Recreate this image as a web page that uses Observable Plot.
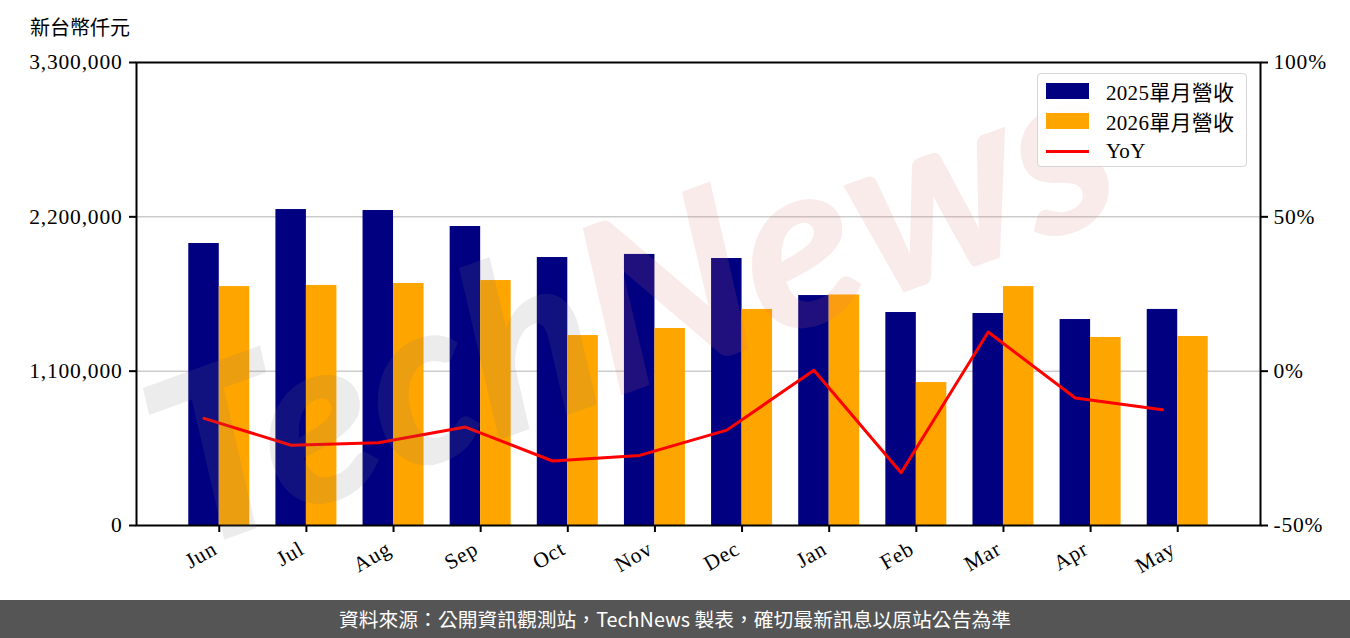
<!DOCTYPE html>
<html>
<head>
<meta charset="utf-8">
<script src="https://cdn.jsdelivr.net/npm/d3@7"></script>
<script src="https://cdn.jsdelivr.net/npm/@observablehq/plot@0.6"></script>
<style>
  html, body { margin: 0; padding: 0; background: #fff; }
  #wrap { position: relative; width: 1350px; height: 638px; overflow: hidden; background: #fff; }
  #title { position: absolute; left: 30px; top: 12px; font-family: "Noto Sans CJK TC", sans-serif; font-size: 20px; color: #000; }
  #chart { position: absolute; left: 0; top: 0; }
  #legend { position: absolute; left: 1037px; top: 73px; width: 208px; height: 92px; border: 1.5px solid #d6d6d6; border-radius: 4px; background: rgba(255,255,255,0.85); font-family: "Liberation Serif", "Noto Sans CJK TC", serif; font-size: 21px; letter-spacing: 0.3px; color: #000; }
  .row { position: absolute; left: 8px; height: 30px; display: flex; align-items: center; }
  .sw { width: 43px; height: 16px; margin-right: 17px; }
  .ln { width: 43px; height: 3px; background: #ff0000; margin-right: 17px; }
  #footer { position: absolute; left: 0; top: 600px; width: 1350px; height: 38px; background: #555555; color: #fff; font-family: "Noto Sans CJK TC", sans-serif; font-size: 19.8px; line-height: 38px; text-align: center; }
  #wm { position: absolute; left: 0; top: 0; width: 1350px; height: 600px; pointer-events: none; }
</style>
</head>
<body>
<div id="wrap">
  <div id="chart"></div>
  <svg id="wm" width="1350" height="600">
    <text x="640" y="385" text-anchor="middle" transform="rotate(-20 640 330)" font-family="Lato, sans-serif" font-style="italic" font-weight="900" font-size="235"><tspan fill="rgba(120,120,120,0.14)">Tech</tspan><tspan fill="rgba(220,110,110,0.14)">News</tspan></text>
  </svg>
  <div id="title">新台幣仟元</div>
  <div id="legend"></div>
  <div id="footer">資料來源：公開資訊觀測站，TechNews 製表，確切最新訊息以原站公告為準</div>
</div>
<script>
const months = ["Jun","Jul","Aug","Sep","Oct","Nov","Dec","Jan","Feb","Mar","Apr","May"];
const rev2025 = [2010000, 2252000, 2245000, 2131000, 1910000, 1932000, 1903000, 1639000, 1518000, 1511000, 1468000, 1540000];
const rev2026 = [1703000, 1711000, 1725000, 1746000, 1354000, 1404000, 1540000, 1643000, 1019000, 1703000, 1340000, 1347000];
const yoy = [-15.3, -24.0, -23.2, -18.1, -29.1, -27.3, -19.1, 0.3, -32.9, 12.7, -8.7, -12.5];
const leftTicks = [0, 1100000, 2200000, 3300000];
const rightTicks = [-50, 0, 50, 100];
const seriesNames = ["2025單月營收", "2026單月營收", "YoY"];
const colors = ["#000080", "#FFA500", "#FF0000"];

// map YoY (%) onto the revenue axis: -50% -> 0, 100% -> 3,300,000
const pctToLeft = p => (p + 50) / 150 * 3300000;
const leftToPct = v => Math.round(v / 3300000 * 150 - 50);

const barW = 0.35;
const rows = months.map((m, i) => ({i, m, a: rev2025[i], b: rev2026[i], yoy: yoy[i]}));

const chart = Plot.plot({
  width: 1350,
  height: 600,
  marginTop: 62,
  marginBottom: 75,
  marginLeft: 136,
  marginRight: 90,
  style: {fontFamily: "'Liberation Serif', 'Noto Sans CJK TC', serif", fontSize: "21.5px", letterSpacing: "0.8px", color: "#000", background: "transparent", overflow: "visible"},
  x: {type: "linear", domain: [-0.95, 11.95]},
  y: {domain: [0, 3300000]},
  marks: [
    Plot.ruleY(leftTicks.slice(1, 3), {stroke: "#cccccc", strokeWidth: 1.5}),
    Plot.rect(rows, {x1: d => d.i - barW, x2: d => d.i, y1: 0, y2: "a", fill: colors[0]}),
    Plot.rect(rows, {x1: d => d.i, x2: d => d.i + barW, y1: 0, y2: "b", fill: colors[1]}),
    Plot.line(rows, {x: d => d.i - barW / 2, y: d => pctToLeft(d.yoy), stroke: colors[2], strokeWidth: 3}),
    Plot.axisY({ticks: leftTicks, tickFormat: d3.format(","), tickSize: 7, tickPadding: 7, strokeWidth: 2, label: null}),
    Plot.axisY({anchor: "right", ticks: rightTicks.map(pctToLeft), tickFormat: v => leftToPct(v) + "%", tickSize: 7, tickPadding: 6, strokeWidth: 2, label: null}),
    Plot.axisX({ticks: d3.range(12), tickFormat: i => months[i], tickRotate: -30, tickSize: 7, tickPadding: 12, strokeWidth: 2, label: null}),
    Plot.frame({stroke: "#000", strokeWidth: 2})
  ]
});
document.getElementById("chart").appendChild(chart);

// nudge rotated month labels slightly left, as in the reference
chart.querySelectorAll("g[aria-label='x-axis tick label'] text").forEach(t => {
  t.setAttribute("dx", "-5");
});

const legend = document.getElementById("legend");
seriesNames.forEach((name, k) => {
  const row = document.createElement("div");
  row.className = "row";
  row.style.top = (2 + k * 30) + "px";
  const sw = document.createElement("div");
  if (k < 2) { sw.className = "sw"; sw.style.background = colors[k]; }
  else { sw.className = "ln"; }
  row.appendChild(sw);
  const t = document.createElement("span");
  t.textContent = name;
  row.appendChild(t);
  legend.appendChild(row);
});
</script>
</body>
</html>
